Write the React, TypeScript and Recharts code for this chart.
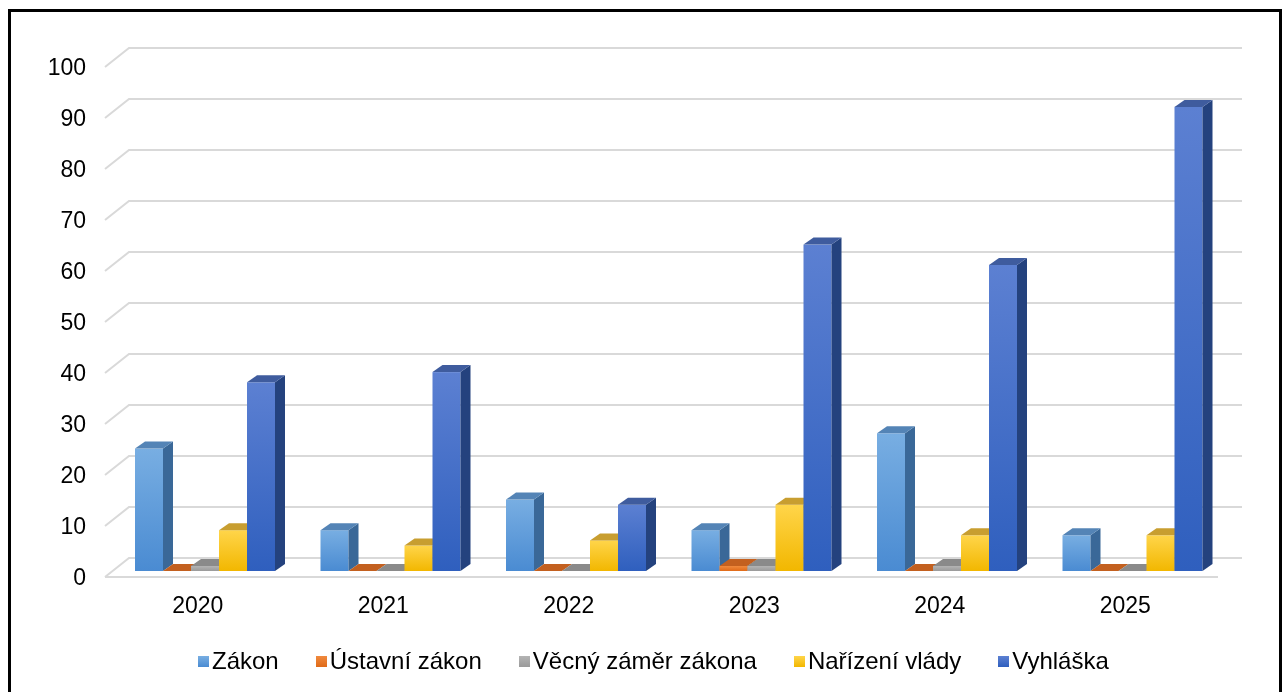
import React from 'react';
import { BarChart, Bar, XAxis, YAxis, CartesianGrid, ReferenceLine } from 'recharts';

const years = ['2020', '2021', '2022', '2023', '2024', '2025'];
const zakon = [24, 8, 14, 8, 27, 7];
const ustavniZakon = [0, 0, 0, 1, 0, 0];
const vecnyZamer = [1, 0, 0, 1, 1, 0];
const narizeniVlady = [8, 5, 6, 13, 7, 7];
const vyhlaska = [37, 39, 13, 64, 60, 91];
const yTicks = [0, 10, 20, 30, 40, 50, 60, 70, 80, 90, 100];

const series = [
  { key: 'zakon', name: 'Zákon', c1: '#78aee2', c2: '#4a8bd2', side: '#3a6898', top: '#5484b6' },
  { key: 'ustavni', name: 'Ústavní zákon', c1: '#f08a3e', c2: '#e06a18', side: '#a84c10', top: '#c3601f' },
  { key: 'vecny', name: 'Věcný záměr zákona', c1: '#b4b4b4', c2: '#9a9a9a', side: '#6e6e6e', top: '#8a8a8a' },
  { key: 'narizeni', name: 'Nařízení vlády', c1: '#ffd54a', c2: '#f2b700', side: '#b48a08', top: '#c89e30' },
  { key: 'vyhlaska', name: 'Vyhláška', c1: '#5c80d2', c2: '#2f5fbe', side: '#24427e', top: '#3f5c9e' },
];

const data = years.map((year, i) => ({
  year,
  zakon: zakon[i],
  ustavni: ustavniZakon[i],
  vecny: vecnyZamer[i],
  narizeni: narizeniVlady[i],
  vyhlaska: vyhlaska[i],
}));

// 3d depth of the back wall and of each bar
const WALL_DX = 24;
const WALL_DY = 19;
const BAR_DX = 10;
const BAR_DY = 7;
const SHIFT_X = 7;
const SHIFT_Y = -6;

const FONT = '"Liberation Sans", Arial, sans-serif';

const Box3D = (props: any) => {
  const { x, y, width, height, s } = props;
  if (x == null || y == null) return null;
  const fx = x + SHIFT_X;
  const fy = y + SHIFT_Y;
  const w = width;
  const h = Math.max(0, height);
  return (
    <g>
      {h > 0 && <rect x={fx} y={fy} width={w} height={h} fill={`url(#front-${s.key})`} />}
      <polygon
        points={`${fx + w},${fy} ${fx + w + BAR_DX},${fy - BAR_DY} ${fx + w + BAR_DX},${fy + h - BAR_DY} ${fx + w},${fy + h}`}
        fill={s.side}
      />
      <polygon
        points={`${fx},${fy} ${fx + BAR_DX},${fy - BAR_DY} ${fx + w + BAR_DX},${fy - BAR_DY} ${fx + w},${fy}`}
        fill={s.top}
      />
    </g>
  );
};

const gridLine = (p: any) => (
  <path
    key={p.key}
    d={`M${p.x1},${p.y1} L${p.x1 + WALL_DX},${p.y1 - WALL_DY} L${p.x2 + WALL_DX},${p.y1 - WALL_DY}`}
    stroke="#d9d9d9"
    strokeWidth={2}
    fill="none"
  />
);

export default function App() {
  return (
    <div>
      <svg width={0} height={0} style={{ position: 'absolute' }}>
        <defs>
          {series.map((s) => (
            <linearGradient key={s.key} id={`front-${s.key}`} x1="0" y1="0" x2="0" y2="1">
              <stop offset="0%" stopColor={s.c1} />
              <stop offset="100%" stopColor={s.c2} />
            </linearGradient>
          ))}
        </defs>
      </svg>
      <div
        style={{
          position: 'fixed',
          left: 8,
          top: 9,
          width: 1274,
          height: 720,
          boxSizing: 'border-box',
          border: '3px solid #000',
        }}
      />
      <div style={{ position: 'fixed', left: 0, top: 0, width: 1283, height: 692, fontFamily: FONT }}>
        <BarChart
          width={1283}
          height={692}
          data={data}
          margin={{ top: 67, right: 65, bottom: 65, left: 0 }}
          barSize={28}
          barGap={0}
        >
          <CartesianGrid vertical={false} horizontal={gridLine} />
          <ReferenceLine y={0} stroke="#d9d9d9" strokeWidth={2} />
          <XAxis
            dataKey="year"
            axisLine={false}
            tickLine={false}
            height={50}
            tickMargin={14}
            tick={{ fontSize: 23, fill: '#000', fontFamily: FONT }}
          />
          <YAxis
            domain={[0, 100]}
            ticks={yTicks}
            interval={0}
            width={105}
            axisLine={false}
            tickLine={false}
            tickMargin={13}
            tick={{ fontSize: 23, fill: '#000', fontFamily: FONT }}
          />
          {series.map((s) => (
            <Bar
              key={s.key}
              dataKey={s.key}
              name={s.name}
              isAnimationActive={false}
              shape={(p: any) => <Box3D {...p} s={s} />}
            />
          ))}
        </BarChart>
      </div>
      <div
        style={{
          position: 'fixed',
          left: 198,
          top: 647,
          display: 'flex',
          alignItems: 'center',
          gap: 37,
          fontFamily: FONT,
          fontSize: 24,
          color: '#000',
          whiteSpace: 'nowrap',
        }}
      >
        {series.map((s) => (
          <div key={s.key} style={{ display: 'flex', alignItems: 'center' }}>
            <span
              style={{
                display: 'inline-block',
                width: 11,
                height: 11,
                marginRight: 3,
                background: `linear-gradient(${s.c1}, ${s.c2})`,
              }}
            />
            <span>{s.name}</span>
          </div>
        ))}
      </div>
    </div>
  );
}
